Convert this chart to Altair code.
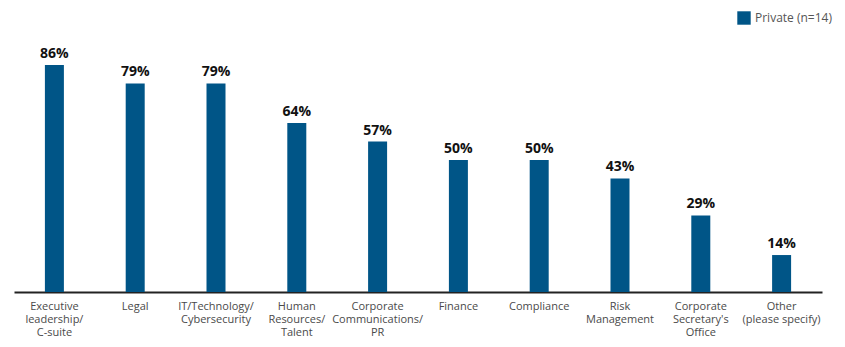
import altair as alt
import pandas as pd

categories = [
    "Executive|leadership/|C-suite",
    "Legal",
    "IT/Technology/|Cybersecurity",
    "Human|Resources/|Talent",
    "Corporate|Communications/|PR",
    "Finance",
    "Compliance",
    "Risk|Management",
    "Corporate|Secretary's|Office",
    "Other|(please specify)",
]
values = [86, 79, 79, 64, 57, 50, 50, 43, 29, 14]
series = "Private (n=14)"

df = pd.DataFrame({"cat": categories, "val": values, "series": [series] * len(values)})
df["label"] = df["val"].astype(str) + "%"

x = alt.X("cat:N", sort=categories, title=None,
          scale=alt.Scale(paddingInner=0.765, paddingOuter=0.3825),
          axis=alt.Axis(labelExpr="split(datum.label, '|')", labelAngle=0,
                        labelFontSize=11, labelColor="#4a4a4a", labelFont="Open Sans",
                        labelLineHeight=13, labelPadding=8, ticks=False,
                        domainColor="#222222", domainWidth=2, labelLimit=200))
y = alt.Y("val:Q", scale=alt.Scale(domain=[0, 100]), axis=None)

bars = alt.Chart(df).mark_bar(size=19).encode(
    x=x, y=y,
    color=alt.Color("series:N", scale=alt.Scale(range=["#005587"]), title=None,
                    legend=alt.Legend(orient="none", legendX=723, legendY=-17,
                                      symbolType="square", symbolSize=180,
                                      symbolStrokeWidth=0, labelFontSize=12,
                                      labelColor="#555555", labelFont="Open Sans")),
)
text = alt.Chart(df).mark_text(dy=-4, baseline="bottom", fontSize=14, fontWeight="bold",
                               font="Open Sans", color="#111111").encode(
    x=alt.X("cat:N", sort=categories), y="val:Q", text="label:N")

chart = (bars + text).properties(
    width=808, height=264,
    autosize=alt.AutoSizeParams(type="none"),
    padding={"left": 14, "top": 28, "right": 23, "bottom": 55},
).configure_view(stroke=None)

chart.save("out.html", embed_options={"renderer": "svg", "actions": False})
